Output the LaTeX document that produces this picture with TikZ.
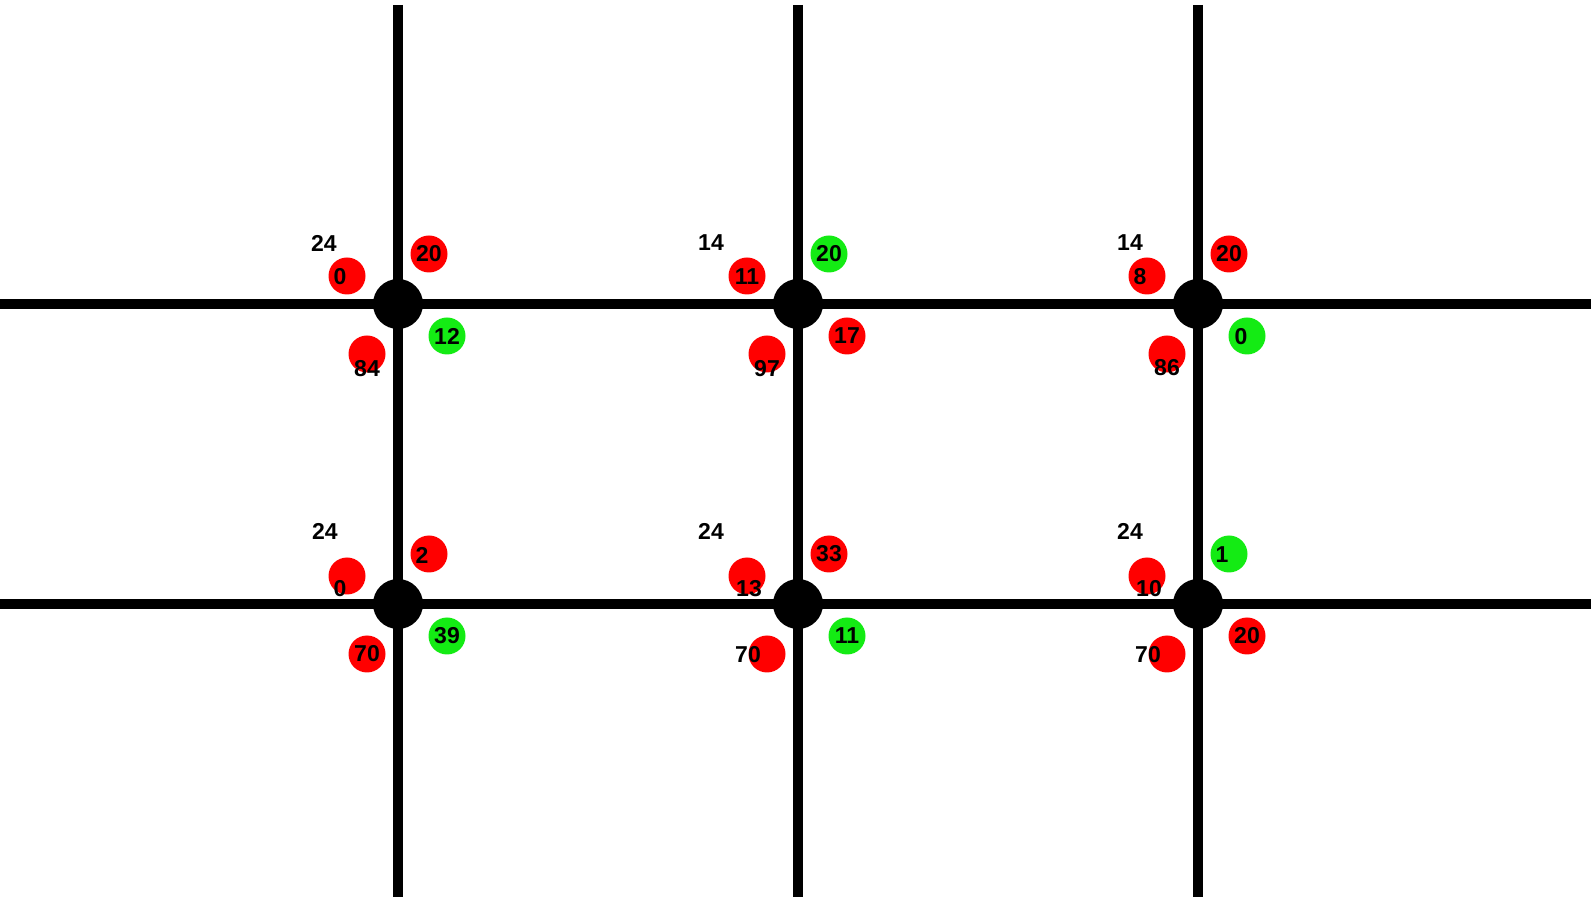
\documentclass[tikz,border=0pt]{standalone}
\usepackage{fontspec}
\setmainfont{Liberation Sans}
\usepackage{xcolor}
\definecolor{portgreen}{RGB}{20,235,20}
\definecolor{portred}{RGB}{255,0,0}
\tikzset{
    x=0.5pt,
    y=-0.5pt,
    wire/.style={line width=5pt},
    num/.style={inner sep=0pt,font=\bfseries\fontsize{11.5}{13}\selectfont},
}
\newcommand{\junction}[5] {
    \node[fill=black,circle,minimum size=25pt,inner sep=0pt]
        (#1) at (#2,#3) {};
    \node[num] (#1tag) at ([shift={(#4)}]#1) {#5};
}
\newcommand{\port}[6] {
    \node[fill=#1,circle,minimum size=18.5pt,inner sep=0pt]
        (#2) at ([shift={(#3)}]#4) {};
    \node[num] (#2text) at ([shift={(#6)}]#2) {#5};
}
\begin{document}
\begin{tikzpicture}
    \useasboundingbox (0,0) rectangle (1591,897);
    \foreach \c/\x in {1/398,2/798,3/1198} {
        \coordinate (top\c) at (\x,5);
        \coordinate (bot\c) at (\x,897);
        \draw[wire] (top\c) -- (bot\c);
    }
    \foreach \r/\y in {1/304,2/604} {
        \coordinate (west\r) at (0,\y);
        \coordinate (east\r) at (1591,\y);
        \draw[wire] (west\r) -- (east\r);
    }
    % top row
    \junction{j11}{398}{304}{-74,-61}{24}
    \port{portred}{j11nw}{-51,-28}{j11}{0}{-7,1}
    \port{portred}{j11ne}{31,-50}{j11}{20}{0,0}
    \port{portgreen}{j11se}{49,32}{j11}{12}{0,0}
    \port{portred}{j11sw}{-31,50}{j11}{84}{0,15}
    \junction{j12}{798}{304}{-87,-61}{14}
    \port{portred}{j12nw}{-51,-28}{j12}{11}{0,1}
    \port{portgreen}{j12ne}{31,-50}{j12}{20}{0,0}
    \port{portred}{j12se}{49,32}{j12}{17}{0,0}
    \port{portred}{j12sw}{-31,50}{j12}{97}{0,15}
    \junction{j13}{1198}{304}{-68,-61}{14}
    \port{portred}{j13nw}{-51,-28}{j13}{8}{-7,1}
    \port{portred}{j13ne}{31,-50}{j13}{20}{0,0}
    \port{portgreen}{j13se}{49,32}{j13}{0}{-6,1}
    \port{portred}{j13sw}{-31,50}{j13}{86}{0,14}
    % bottom row
    \junction{j21}{398}{604}{-73,-73}{24}
    \port{portred}{j21nw}{-51,-28}{j21}{0}{-7,13}
    \port{portred}{j21ne}{31,-50}{j21}{2}{-7,1}
    \port{portgreen}{j21se}{49,32}{j21}{39}{0,0}
    \port{portred}{j21sw}{-31,50}{j21}{70}{0,0}
    \junction{j22}{798}{604}{-87,-73}{24}
    \port{portred}{j22nw}{-51,-28}{j22}{13}{2,13}
    \port{portred}{j22ne}{31,-50}{j22}{33}{0,0}
    \port{portgreen}{j22se}{49,32}{j22}{11}{0,0}
    \port{portred}{j22sw}{-31,50}{j22}{70}{-19,1}
    \junction{j23}{1198}{604}{-68,-73}{24}
    \port{portred}{j23nw}{-51,-28}{j23}{10}{2,13}
    \port{portgreen}{j23ne}{31,-50}{j23}{1}{-7,1}
    \port{portred}{j23se}{49,32}{j23}{20}{0,0}
    \port{portred}{j23sw}{-31,50}{j23}{70}{-19,1}
\end{tikzpicture}
\end{document}
